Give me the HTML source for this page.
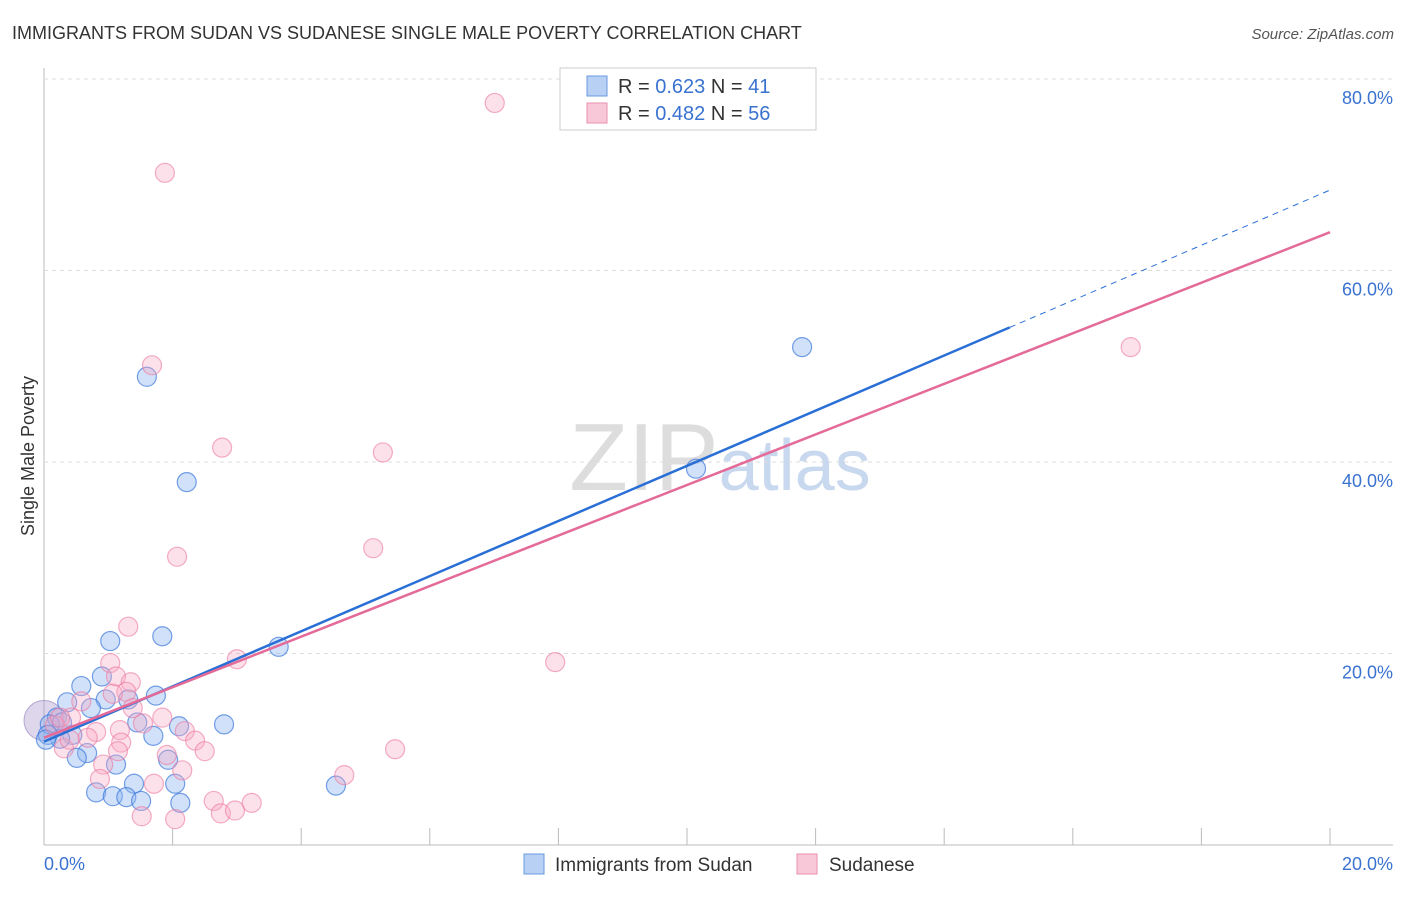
<!DOCTYPE html>
<html><head><meta charset="utf-8"><style>
body{margin:0;background:#fff;font-family:"Liberation Sans",sans-serif}
svg text{font-family:"Liberation Sans",sans-serif}
</style></head><body>
<svg id="c" width="1406" height="892" xmlns="http://www.w3.org/2000/svg">
<text x="12" y="39" font-size="18" fill="#333">IMMIGRANTS FROM SUDAN VS SUDANESE SINGLE MALE POVERTY CORRELATION CHART</text>
<text x="1394" y="39" font-size="15" fill="#555" font-style="italic" text-anchor="end">Source: ZipAtlas.com</text>
<text x="34" y="456" font-size="18" fill="#333" transform="rotate(-90 34 456)" text-anchor="middle">Single Male Poverty</text>
<text x="720" y="490" font-size="96" fill="#ddd" text-anchor="middle" font-family="Liberation Serif">ZIP<tspan fill="#c8d8ee" font-family="Liberation Sans" font-size="72">atlas</tspan></text>
<g id="grid"></g><g id="pts"></g><g id="lines"></g>
<g>
<rect x="560" y="68" width="256" height="62" fill="#fff" stroke="#ccc"/>
<rect x="587" y="76" width="20" height="20" fill="#b8d0f4" stroke="#6a9ae0"/>
<rect x="587" y="103" width="20" height="20" fill="#f9c8d8" stroke="#ea8fb0"/>
<text x="618" y="93" font-size="20" fill="#333">R = <tspan fill="#3a72d0">0.623</tspan>   N = <tspan fill="#3a72d0">41</tspan></text>
<text x="618" y="120" font-size="20" fill="#333">R = <tspan fill="#3a72d0">0.482</tspan>   N = <tspan fill="#3a72d0">56</tspan></text>
</g>
<g>
<rect x="524" y="854" width="20" height="20" fill="#b8d0f4" stroke="#6a9ae0"/>
<text x="555" y="871" font-size="19" fill="#333">Immigrants from Sudan</text>
<rect x="797" y="854" width="20" height="20" fill="#f9c8d8" stroke="#ea8fb0"/>
<text x="829" y="871" font-size="19" fill="#333">Sudanese</text>
</g>
</svg>
<script>
const yTicks=[20,40,60,80];
const xTickLabels=["0.0%","20.0%"];
const blueX=[1.60,2.22,11.79,10.14,3.65,1.84,1.03,0.58,0.90,0.36,0.96,1.31,1.74,0.73,0.20,1.45,2.10,2.80,1.70,0.44,0.25,0.67,0.51,1.12,1.93,1.40,2.04,0.81,1.07,1.28,1.51,2.12,4.54,0.09,0.06,0.28,0.03];
const blueY=[48.9,37.9,52.0,39.3,20.7,21.8,21.3,16.6,17.6,14.9,15.2,15.2,15.6,14.3,13.3,12.8,12.4,12.6,11.4,11.5,11.1,9.6,9.1,8.4,8.9,6.4,6.4,5.5,5.1,5.0,4.6,4.4,6.2,12.6,11.5,12.8,11.0];
const pinkX=[7.01,1.88,1.68,2.77,5.27,5.12,2.07,16.9,7.95,1.31,3.00,1.03,1.12,1.35,1.28,1.07,0.58,1.38,1.84,1.54,2.19,1.18,0.81,0.42,0.68,0.31,1.20,2.35,2.50,1.15,1.91,5.46,0.92,0.87,2.15,1.71,4.67,2.64,3.23,2.75,2.97,1.52,2.04,0.40,0.17,0.25];
const pinkY=[77.5,70.2,50.1,41.5,41.0,31.0,30.1,52.0,19.1,22.8,19.4,19.0,17.6,17.0,16.0,15.8,15.0,14.3,13.3,12.7,11.9,12.0,11.8,13.3,11.2,10.1,10.7,10.9,9.8,9.8,9.4,10.0,8.4,6.9,7.8,6.4,7.3,4.6,4.4,3.3,3.6,3.0,2.7,11.0,12.5,13.3];
const blueFit=[10.8,2.88], pinkFit=[11.2,2.64];
const X=v=>44+v*64.3, Y=v=>845-v*9.575;
const NS="http://www.w3.org/2000/svg";
function mk(t,a,p){const e=document.createElementNS(NS,t);for(const k in a)e.setAttribute(k,a[k]);p.appendChild(e);return e;}
const g=document.getElementById('grid');
let ax=mk('line',{x1:44,y1:68,x2:44,y2:845,stroke:'#bbb'},g);

let bx=mk('line',{x1:44,y1:845,x2:1393,y2:845,stroke:'#bbb'},g);

yTicks.forEach(t=>{const l=mk('line',{x1:44,x2:1393,y1:Y(t),y2:Y(t),stroke:'#ddd','stroke-dasharray':'4,4'},g);

const tx=mk('text',{x:1393,y:Y(t)+25,'font-size':18,fill:'#3a72d0','text-anchor':'end'},g);tx.textContent=t.toFixed(1)+'%';
});
for(let i=0;i<=20;i+=2){const l=mk('line',{x1:X(i),x2:X(i),y1:828,y2:845,stroke:'#bbb'},g);
}
[[0,'start',44],[20,'end',1393]].forEach((d,i)=>{const t=mk('text',{x:d[2],y:870,'font-size':18,fill:'#3a72d0','text-anchor':d[1]},g);t.textContent=xTickLabels[i];
});
const p=document.getElementById('pts');
let big=mk('circle',{cx:X(0),cy:Y(13),r:20,fill:'rgba(160,140,200,0.35)',stroke:'rgba(140,120,190,0.6)'},p);

blueX.forEach((v,i)=>{const c=mk('circle',{cx:X(v),cy:Y(blueY[i]),r:9.5,fill:'rgba(140,180,240,0.4)',stroke:'rgba(60,120,220,0.7)','stroke-width':1.2},p);
});
pinkX.forEach((v,i)=>{const c=mk('circle',{cx:X(v),cy:Y(pinkY[i]),r:9.5,fill:'rgba(248,170,195,0.35)',stroke:'rgba(235,120,160,0.6)','stroke-width':1.2},p);
});
const L=document.getElementById('lines');
let b1=mk('line',{x1:X(0),y1:Y(blueFit[0]),x2:X(15.02),y2:Y(blueFit[0]+blueFit[1]*15.02),stroke:'#2a6fd6','stroke-width':2.5},L);

let b2=mk('line',{x1:X(15.02),y1:Y(blueFit[0]+blueFit[1]*15.02),x2:X(20),y2:Y(blueFit[0]+blueFit[1]*20),stroke:'#2a6fd6','stroke-width':1,'stroke-dasharray':'6,5'},L);

let p1=mk('line',{x1:X(0),y1:Y(pinkFit[0]),x2:X(20),y2:Y(pinkFit[0]+pinkFit[1]*20),stroke:'#e46a98','stroke-width':2.5},L);

</script>
</body></html>
